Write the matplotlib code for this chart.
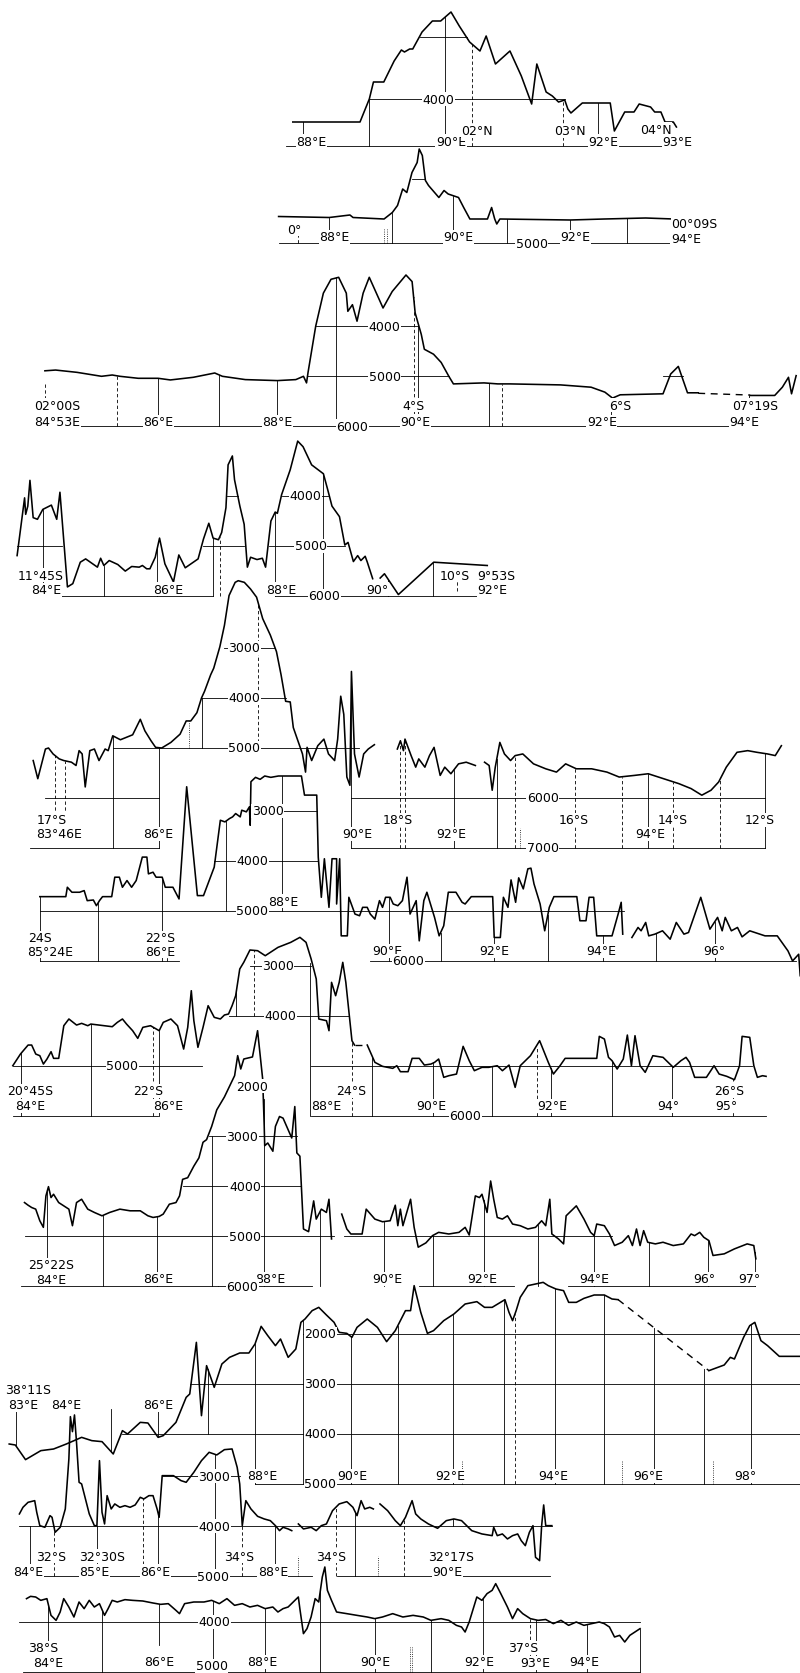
import numpy as np
import matplotlib
matplotlib.use("Agg")
import matplotlib.pyplot as plt
from matplotlib import font_manager

# Bathymetric profiles across the Ninetyeast Ridge.
# x = distance along track (arbitrary units per panel), y = depth in metres.
# ticks: (distance, lower depth, upper depth or None = up to the profile)
# labels: (text, distance, depth)

# ---- profile 1 : 2-4 N ----
p1_profile = [(0, 4460), (65, 4460), (74, 4000), (78, 3660), (88, 3660), (98, 3240), (105, 3020),
              (108, 3060), (113, 3000), (116, 3000), (125, 2660), (135, 2440), (143, 2440), (153, 2260),
              (161, 2540), (171, 2860), (181, 3040), (187, 2740), (196, 3300), (210, 3040), (221, 3540),
              (231, 4100), (236, 3300), (245, 3860), (251, 3940), (257, 4060), (263, 4020), (266, 4200),
              (269, 4280), (280, 4080), (307, 4080), (311, 4640), (321, 4260), (330, 4260), (335, 4100),
              (346, 4160), (350, 4260), (356, 4260), (360, 4460), (368, 4460), (371, 4560)]
p1_grid = [(4940, -7, 383), (4000, 74, 263), (2760, 123, 168)]
p1_solid = [(10, 4940, None), (74, 4940, 4000), (147, 4940, None), (295, 4940, None)]
p1_dashed = [(173, 4940, None), (261, 4940, None)]
p1_dotted = []
p1_labels = [("88°E", 18, 4840), ("90°E", 153, 4840), ("02°N", 178, 4630), ("03°N", 268, 4630),
             ("92°E", 300, 4840), ("04°N", 351, 4600), ("93°E", 372, 4860), ("4000", 141, 4000)]

# ---- profile 2 : equator ----
p2_profile = [(0, 4470), (49, 4490), (69, 4440), (72, 4490), (102, 4520), (110, 4390), (115, 4250),
              (120, 3920), (124, 3990), (129, 3590), (134, 3390), (136, 3120), (139, 3250), (142, 3750),
              (145, 3850), (155, 4090), (160, 3950), (164, 4020), (174, 4090), (179, 4290), (185, 4520),
              (202, 4520), (206, 4290), (209, 4520), (211, 4620), (214, 4520), (282, 4540), (315, 4520),
              (355, 4500), (382, 4520), (399, 4500)]
p2_grid = [(5000, 0, 395), (3720, 129, 142)]
p2_solid = [(49, 5000, None), (110, 5000, None), (169, 5000, None), (221, 5000, None),
            (282, 5000, None), (337, 5000, None)]
p2_dashed = [(19, 5000, 4660)]
p2_dotted = [(102, 5000, 4720), (105, 5000, 4720)]
p2_labels = [("0°", 15, 4720), ("88°E", 54, 4870), ("90°E", 174, 4870), ("92°E", 287, 4870),
             ("00°09S", 402, 4610), ("94°E", 394, 4910), ("5000", 245, 5000)]

# ---- profile 3 : 2-7 S ----
p3_profile = [(0, 4890), (7, 4875), (21, 4921), (37, 5000), (44, 4974), (49, 5000), (61, 5040),
              (74, 5040), (82, 5073), (97, 5020), (111, 4934), (116, 5000), (131, 5066), (152, 5086),
              (164, 5066), (169, 5000), (171, 5132), (172, 4921), (177, 3997), (182, 3337), (187, 3060),
              (192, 3020), (197, 3337), (198, 3700), (201, 3568), (204, 3898), (208, 3337), (212, 3020),
              (221, 3634), (227, 3304), (236, 2974), (240, 3106), (242, 3733), (246, 4162), (248, 4459),
              (254, 4558), (259, 4723), (264, 5000), (267, 5152), (287, 5132), (296, 5152), (304, 5152),
              (337, 5172), (357, 5218), (366, 5317), (371, 5436), (376, 5370), (404, 5350), (409, 4954),
              (414, 4802), (420, 5330), (427, 5330), (None, None),
              (461, 5383), (477, 5383), (482, 5218), (486, 5020), (488, 5350), (491, 4987)]
p3_dash = [(427, 5340), (461, 5375)]
p3_grid = [(6000, 0, 461), (5000, 171, 264), (4000, 177, 244), (5000, 404, 417)]
p3_solid = [(74, 6000, None), (114, 6000, None), (152, 6000, None), (190, 6000, 3020),
            (244, 6000, None), (290, 6000, None), (370, 6000, None)]
p3_dashed = [(0, 5450, 5150), (47, 6000, None), (241, 6000, None), (299, 6000, None), (460, 5550, 5383)]
p3_dotted = []
p3_labels = [("02°00S", 8, 5580), ("84°53E", 8, 5900), ("86°E", 74, 5910), ("88°E", 152, 5910),
             ("4°S", 241, 5580), ("90°E", 242, 5900), ("6°S", 376, 5580), ("92°E", 364, 5910),
             ("07°19S", 464, 5580), ("94°E", 457, 5910),
             ("4000", 222, 4000), ("5000", 222, 5000), ("6000", 201, 6000)]

# ---- profile 4 : 10-12 S ----
p4_profile = [(0, 5198), (7, 4043), (8, 4373), (10, 4208), (12, 3693), (15, 4439), (19, 4472),
              (24, 4274), (32, 4188), (37, 4472), (40, 3931), (47, 5825), (52, 5759), (59, 5330),
              (64, 5264), (75, 5429), (78, 5251), (81, 5396), (86, 5297), (94, 5376), (101, 5508),
              (107, 5416), (114, 5429), (117, 5396), (121, 5462), (124, 5462), (129, 5231), (133, 4848),
              (138, 5363), (146, 5726), (151, 5185), (157, 5442), (169, 5264), (174, 4868), (179, 4551),
              (183, 4848), (188, 4881), (191, 4736), (195, 4241), (197, 3383), (201, 3205), (203, 3680),
              (208, 4208), (212, 4571), (215, 5429), (218, 5231), (224, 5277), (229, 5251), (232, 5429),
              (237, 4505), (241, 4327), (243, 4353), (247, 3977), (255, 3482), (262, 2908), (267, 3020),
              (275, 3383), (286, 3561), (290, 3878), (294, 4208), (301, 4419), (306, 4987), (309, 4934),
              (314, 5317), (318, 5198), (321, 5297), (325, 5211), (327, 5330), (332, 5660), (None, None),
              (339, 5647), (343, 5561), (356, 5977), (389, 5330), (439, 5396)]
p4_grid = [(5000, 0, 42), (5000, 174, 212), (5000, 235, 306), (4000, 196, 206), (4000, 247, 290),
           (6000, 24, 183), (6000, 241, 439)]
p4_solid = [(24, 6000, None), (81, 6000, None), (131, 6000, None), (183, 6000, None), (241, 6000, None),
            (286, 5900, None), (346, 6000, None), (388, 6000, None)]
p4_dashed = [(189, 6000, None), (411, 5900, 5500)]
p4_dotted = []
p4_labels = [("11°45S", 22, 5595), ("84°E", 27, 5880), ("86°E", 141, 5871), ("88°E", 247, 5871),
             ("90°", 336, 5871), ("10°S", 409, 5595), ("9°53S", 447, 5595), ("92°E", 444, 5880),
             ("4000", 269, 4000), ("5000", 274, 5000), ("6000", 287, 6000)]

# ---- profile 5 : 12-18 S ----
p5_profile = [(0, 5251), (3, 5614), (8, 5020), (10, 5000), (13, 5119), (17, 5218), (20, 5251), (25, 5284),
              (28, 5350), (30, 5053), (32, 5119), (34, 5779), (37, 5053), (40, 5020), (43, 5251), (47, 5020),
              (49, 5053), (52, 4756), (57, 4835), (65, 4736), (70, 4426), (73, 4657), (77, 4855), (80, 4987),
              (84, 5000), (90, 4888), (96, 4723), (100, 4459), (103, 4459), (107, 4294), (110, 4000),
              (112, 3865), (116, 3535), (118, 3403), (122, 2974), (125, 2545), (128, 1951), (132, 1687),
              (134, 1654), (138, 1687), (142, 1819), (146, 1984), (150, 2413), (155, 2743), (159, 3073),
              (162, 3535), (165, 4066), (168, 4079), (170, 4591), (173, 4855), (176, 5119), (178, 5482),
              (179, 4987), (182, 5251), (186, 4954), (190, 4822), (193, 5119), (197, 5251), (199, 4822),
              (201, 3964), (203, 4327), (205, 5581), (207, 5746), (208, 3469), (210, 5119), (213, 5581),
              (216, 5119), (219, 5020), (223, 4934), (None, None),
              (238, 5020), (240, 4855), (242, 5053), (243, 4822), (245, 4987), (247, 5152), (250, 5383),
              (252, 5218), (256, 5383), (259, 5152), (262, 4987), (266, 5548), (269, 5383), (273, 5515),
              (278, 5317), (283, 5284), (289, 5350), (None, None),
              (295, 5284), (298, 5350), (300, 5845), (302, 5383), (305, 4888), (308, 5119), (312, 5251),
              (315, 5152), (320, 5119), (327, 5317), (335, 5416), (342, 5482), (348, 5317), (355, 5416),
              (365, 5416), (375, 5482), (383, 5581), (393, 5548), (402, 5515), (412, 5614), (422, 5713),
              (430, 5812), (437, 5944), (443, 5845), (448, 5680), (453, 5383), (460, 5086), (467, 5053),
              (473, 5086), (480, 5119), (485, 5152), (489, 4954)]
p5_grid = [(3000, 125, 158), (4000, 110, 165), (5000, 52, 213), (6000, 8, 82), (6000, 208, 478),
           (7000, -2, 82), (7000, 208, 478)]
p5_solid = [(52, 7000, None), (82, 7000, None), (110, 5000, None), (208, 7000, None), (275, 7000, None),
            (303, 7000, None), (402, 7000, None), (478, 7000, None)]
p5_dashed = [(14, 6350, None), (21, 6350, None), (147, 5000, None), (240, 7000, None), (243, 7000, None),
             (315, 7000, None), (354, 7000, None), (385, 7000, None), (418, 7000, None), (449, 7000, None)]
p5_dotted = [(102, 5000, 4460), (318, 7000, 6600)]
p5_labels = [("17°S", 12, 6430), ("83°46E", 17, 6710), ("86°E", 82, 6710), ("90°E", 212, 6710),
             ("18°S", 238, 6440), ("92°E", 273, 6710), ("16°S", 353, 6440), ("94°E", 403, 6710),
             ("14°S", 418, 6440), ("12°S", 475, 6440),
             ("3000", 138, 3000), ("4000", 138, 4000), ("5000", 138, 5000), ("6000", 333, 6000),
             ("7000", 333, 7000)]

# ---- profile 6 : 22-24 S ----
p6_profile = [(0, 4719), (17, 4719), (18, 4531), (21, 4631), (26, 4631), (29, 4598), (31, 4799), (35, 4786),
              (37, 4900), (39, 4799), (41, 4719), (47, 4719), (49, 4330), (52, 4330), (54, 4531), (57, 4397),
              (60, 4531), (63, 4397), (67, 3928), (70, 3928), (71, 4263), (74, 4230), (76, 4330), (80, 4330),
              (82, 4531), (87, 4531), (91, 4765), (96, 2521), (103, 4698), (107, 4698), (114, 4129),
              (118, 3191), (121, 3224), (124, 3157), (126, 3124), (128, 3057), (131, 3124), (132, 2990),
              (135, 3023), (137, 2923), (137.5, 3291), (138, 2420), (141, 2333), (144, 2373), (147, 2306),
              (151, 2333), (156, 2306), (171, 2306), (173, 2688), (181, 2688), (182, 3928), (184, 4732),
              (186, 3961), (189, 4933), (191, 3961), (194, 3961), (194, 4866), (196, 3961), (197, 5503),
              (201, 5503), (202, 4732), (206, 5067), (209, 5101), (211, 4933), (214, 4933), (216, 5067),
              (219, 5168), (222, 4799), (224, 4933), (226, 4732), (229, 4732), (231, 4866), (234, 4900),
              (237, 4799), (240, 4330), (242, 5067), (244, 4933), (246, 4799), (248, 5603), (251, 4799),
              (253, 4631), (256, 4933), (258, 5134), (261, 5503), (264, 5302), (267, 4631), (272, 4631),
              (276, 4832), (278, 4866), (282, 4719), (296, 4719), (297, 5536), (301, 5536), (303, 4732),
              (306, 4933), (308, 4384), (311, 4832), (313, 4343), (316, 4564), (319, 4163), (321, 4149),
              (323, 4464), (327, 4866), (330, 5402), (333, 4933), (336, 4719), (351, 4719), (353, 5201),
              (357, 5201), (359, 4732), (362, 4732), (364, 5503), (374, 5503), (378, 5067), (380, 4832),
              (381, 5469), (None, None),
              (387, 5536), (391, 5335), (393, 5402), (396, 5235), (398, 5503), (402, 5469), (407, 5402),
              (412, 5570), (416, 5235), (421, 5469), (424, 5436), (432, 4732), (438, 5369), (443, 5134),
              (446, 5402), (448, 5134), (452, 5402), (456, 5335), (459, 5523), (464, 5402), (474, 5503),
              (482, 5503), (489, 5804), (492, 6005), (496, 5871), (497, 6300)]
p6_grid = [(3000, 139, 181), (4000, 114, 182), (5000, 0, 382), (6000, 0, 91), (6000, 216, 494)]
p6_solid = [(0, 6000, None), (38, 6000, None), (80, 6000, None), (122, 5000, None), (158, 5000, None),
            (228, 6000, None), (262, 6000, None), (297, 6000, None), (332, 6000, None), (368, 6000, None),
            (403, 6000, None), (441, 6000, None)]
p6_dashed = [(83, 6000, 5450)]
p6_dotted = []
p6_labels = [("24S", 0, 5540), ("85°24E", 7, 5815), ("22°S", 79, 5540), ("86°E", 79, 5815),
             ("88°E", 159, 4812), ("90°E", 227, 5804), ("92°E", 297, 5804), ("94°E", 367, 5804),
             ("96°", 441, 5804),
             ("3000", 149, 3000), ("4000", 139, 4000), ("5000", 139, 5000), ("6000", 241, 6000)]

# ---- profile 7 : 20-26 S ----
p7_profile = [(0, 5000), (7.5, 4767), (15, 4587), (18.5, 4587), (22.5, 4767), (26.5, 4800), (30, 4967),
              (33.5, 4867), (37.5, 4720), (40, 4853), (45, 4853), (50, 4200), (55, 4066), (62.5, 4187),
              (67.5, 4153), (73.5, 4200), (76.5, 4167), (97.5, 4220), (102.5, 4133), (107.5, 4066),
              (111.5, 4167), (117.5, 4300), (122.5, 4453), (127.5, 4233), (135, 4200), (143.5, 4300),
              (147.5, 4133), (155, 4066), (161.5, 4200), (167.5, 4667), (171.5, 4233), (175, 3500),
              (177.5, 4100), (181.5, 4633), (186.5, 4233), (191.5, 3800), (197.5, 4033), (203.5, 4066),
              (207.5, 3986), (211.5, 3966), (215, 3800), (218.5, 3600), (222.5, 3066), (226.5, 2930),
              (232.5, 2686), (240, 2700), (247.5, 2800), (260, 2633), (272.5, 2533), (281.5, 2433),
              (287.5, 2533), (292.5, 2866), (297.5, 3266), (300, 4066), (307.5, 4100), (310, 4300),
              (312.5, 3333), (316.5, 3600), (320, 3333), (323.5, 2933), (326.5, 3333), (332.5, 4500),
              (335, 4587), (None, None),
              (347.5, 4587), (355, 4933), (362.5, 5013), (372.5, 5053), (376.5, 5000), (380, 5120),
              (387.5, 5120), (391.5, 4853), (398.5, 4853), (403.5, 4987), (410, 4967), (413.5, 4933),
              (417.5, 4867), (422.5, 5233), (427.5, 5200), (435, 5167), (441.5, 4613), (447.5, 4900),
              (452.5, 5100), (460, 5033), (466.5, 5033), (475, 5000), (480, 5100), (486.5, 4987),
              (492.5, 5433), (497.5, 5000), (507.5, 4800), (516.5, 4500), (525, 4933), (530, 5167),
              (536.5, 5000), (541.5, 4853), (572.5, 4853), (575, 4413), (580, 4467), (584, 4833),
              (587.5, 4900), (592.5, 5067), (598.5, 4867), (602.5, 4387), (606.5, 5000), (610, 4400),
              (615, 5000), (620, 5133), (627.5, 4800), (637.5, 4833), (647.5, 5033), (655, 4900),
              (660, 4833), (663.5, 4933), (668.5, 5233), (680, 5233), (687.5, 5000), (692.5, 5167),
              (700, 5213), (707.5, 5280), (712.5, 5000), (715, 4413), (722.5, 4433), (726.5, 5000),
              (730, 5233), (735, 5200), (738.5, 5213)]
p7_dash = [(335, 4587), (347.5, 4587)]
p7_grid = [(3000, 232.5, 292.5), (4000, 211.5, 330), (5000, 0, 185), (5000, 292.5, 725),
           (6000, 0, 142.5), (6000, 292.5, 738.5)]
p7_solid = [(8.5, 6000, None), (76.5, 6000, None), (143.5, 6000, None), (219, 4000, None),
            (291.5, 6000, 2950), (352.5, 6000, None), (411.5, 6000, None), (470, 6000, None),
            (527.5, 6000, None), (587.5, 6000, None), (646.5, 6000, None)]
p7_dashed = [(137.5, 6000, None), (236.5, 4000, None), (332.5, 6000, None), (513.5, 6000, None),
             (706, 6000, None)]
p7_dotted = []
p7_labels = [("20°45S", 17.5, 5500), ("84°E", 17.5, 5800), ("22°S", 132.5, 5500), ("86°E", 152.5, 5800),
             ("88°E", 307.5, 5800), ("24°S", 331.5, 5500), ("90°E", 410, 5800), ("92°E", 528.5, 5800),
             ("94°", 642.5, 5800), ("26°S", 702.5, 5500), ("95°", 700, 5800),
             ("3000", 260, 3000), ("4000", 262.5, 4000), ("5000", 107.5, 5000), ("6000", 443.5, 6000)]

# ---- profile 8 : 25 S ----
p8_profile = [(0, 4325), (3.5, 4378), (7, 4424), (11, 4457), (15, 4689), (18.5, 4821), (21, 4192),
              (23.5, 4007), (26, 4225), (28.5, 4159), (33.5, 4325), (38.5, 4391), (43.5, 4457), (47, 4788),
              (51, 4325), (56, 4259), (62, 4457), (68.5, 4523), (76, 4590), (83.5, 4523), (93.5, 4457),
              (103.5, 4490), (113.5, 4490), (121, 4590), (126, 4623), (132, 4603), (136, 4556), (142, 4358),
              (148.5, 4325), (152, 4192), (155, 3861), (160, 3828), (166, 3597), (171, 3431), (175, 3120),
              (178.5, 3067), (183.5, 2802), (188.5, 2471), (196, 2213), (206, 1787), (209, 1387),
              (212, 1654), (215, 1454), (223.5, 1413), (228.5, 888), (233.5, 1854), (235, 2787),
              (235.5, 3188), (238.5, 3134), (243.5, 3299), (246, 2802), (250, 2604), (253.5, 2637),
              (257, 2802), (262, 3034), (265, 2405), (267, 3332), (270, 3398), (273.5, 4854), (278.5, 4907),
              (283.5, 4292), (286, 4656), (291, 4457), (296, 4523), (298.5, 4259), (301, 5053), (None, None),
              (311, 4556), (316, 4854), (320, 4954), (331, 4954), (335, 4457), (343.5, 4656), (351, 4709),
              (358.5, 4689), (363.5, 4378), (366, 4788), (368.5, 4457), (371, 4788), (378.5, 4259),
              (382, 4821), (386, 5218), (393.5, 5132), (400, 4987), (406, 4921), (416, 4954), (426, 4921),
              (432, 4821), (436, 4974), (442, 4192), (446, 4225), (448.5, 4159), (453.5, 4523), (457, 3894),
              (460, 4259), (463.5, 4623), (468.5, 4656), (473.5, 4590), (478.5, 4755), (486, 4788),
              (493.5, 4854), (501, 4821), (507, 4689), (511, 4788), (515, 4259), (517, 4954), (523.5, 5053),
              (528.5, 5152), (531, 4590), (541, 4391), (548.5, 4656), (555, 4921), (558.5, 4987),
              (561, 4755), (568.5, 4788), (573.5, 4954), (578.5, 5185), (586, 5119), (592, 4987),
              (596, 5185), (600, 4854), (603.5, 5185), (607, 4887), (611, 5119), (618.5, 5152), (626, 5119),
              (636, 5185), (646, 5152), (653.5, 4954), (657, 4987), (662, 4921), (666, 5020), (671, 5086),
              (675, 5384), (686, 5351), (696, 5252), (708.5, 5152), (715, 5185), (717, 5450)]
p8_grid = [(3000, 181, 267), (4000, 155, 271), (5000, 0, 303.5), (5000, 313.5, 576),
           (6000, -3, 190), (6000, 190, 282), (6000, 387, 480), (6000, 533, 716)]
p8_solid = [(22, 5600, None), (77, 6000, None), (130, 6000, None), (183.5, 6000, 3000), (235, 6000, 2250),
            (290, 6000, None), (352, 6000, None), (400, 6000, None), (450, 6000, None), (503.5, 6000, None),
            (558.5, 6000, None), (612, 6000, None), (670, 6000, None), (716, 6000, None)]
p8_dashed = []
p8_dotted = []
p8_labels = [("25°22S", 26, 5570), ("84°E", 26, 5860), ("86°E", 131, 5848), ("88°E", 241, 5848),
             ("90°E", 356, 5848), ("92°E", 448.5, 5848), ("94°E", 558.5, 5848), ("96°", 666, 5848),
             ("97°", 711, 5848),
             ("2000", 223.5, 2000), ("3000", 213.5, 3000), ("4000", 216, 4000), ("5000", 216, 5000),
             ("6000", 213.5, 6000)]

# ---- profile 9 : 38 S ----
p9_profile = [(0, 4200), (6, 4220), (16, 4513), (31, 4333), (43.5, 4300), (56, 4200), (71, 4067),
              (81, 4133), (91, 4153), (102, 4400), (111, 3933), (116, 4000), (128.5, 3767), (136, 3780),
              (146, 4067), (151, 4033), (163.5, 3767), (173.5, 3267), (177, 3200), (183.5, 2167),
              (188.5, 3633), (193.5, 2633), (201, 3067), (208.5, 2600), (216, 2467), (226, 2380),
              (235, 2380), (241, 2200), (247, 1847), (253.5, 2033), (261, 2233), (266, 2100), (273.5, 2467),
              (281, 2300), (286, 1767), (290, 1700), (297, 1533), (303.5, 1467), (311, 1620), (318.5, 1767),
              (323.5, 1967), (331, 1987), (336, 2067), (341, 1867), (351, 1700), (361, 1867), (370, 2153),
              (378.5, 1933), (381, 1833), (388.5, 1533), (393.5, 1533), (397, 1033), (403.5, 1567),
              (410, 1987), (416, 1933), (426, 1733), (436, 1600), (447, 1400), (458.5, 1353), (466, 1467),
              (473.5, 1467), (486, 1313), (490, 1567), (493.5, 1733), (497, 1533), (501, 1267),
              (508.5, 1033), (516, 1000), (523.5, 967), (528.5, 1033), (536, 1100), (543.5, 1133),
              (548.5, 1367), (556, 1367), (563.5, 1287), (573.5, 1220), (583.5, 1220), (591, 1300),
              (597, 1313), (None, None),
              (686, 2733), (701, 2620), (707, 2467), (711, 2500), (720, 2067), (726, 1833), (731, 1767),
              (737, 2133), (743.5, 2233), (755, 2447), (775, 2447)]
p9_dash = [(597, 1313), (686, 2733)]
p9_grid = [(2000, 288.5, 775), (3000, 177, 775), (4000, 111, 775), (5000, 241, 775)]
p9_solid = [(7, 3450, None), (100, 3500, None), (146, 3450, None), (194.5, 4000, None), (241, 5000, None),
            (288.5, 5000, None), (335, 5000, None), (381, 5000, None), (435, 5000, None), (485, 5000, None),
            (535, 5000, None), (583.5, 5000, None), (632, 5000, 1870), (681, 5000, 2700), (727, 5000, None)]
p9_dashed = [(496, 5000, None)]
p9_dotted = [(443.5, 5000, 4530), (601, 5000, 4530), (690, 5000, 4530)]
p9_labels = [("38°11S", 18.5, 3110), ("83°E", 13.5, 3410), ("84°E", 56, 3410), ("86°E", 146, 3410),
             ("88°E", 248.5, 4834), ("90°E", 336, 4834), ("92°E", 432, 4834), ("94°E", 533.5, 4834),
             ("96°E", 627, 4834), ("98°", 722, 4834),
             ("2000", 305, 2000), ("3000", 305, 3000), ("4000", 305, 4000), ("5000", 305, 5000)]

# ---- profile 10 : 32-34 S ----
p10_profile = [(0, 3753), (3.5, 3620), (8.5, 3520), (15, 3487), (17, 3720), (20, 3987), (25, 4020),
               (30, 3787), (32, 3820), (35, 4120), (40, 4020), (45, 3653), (48.5, 2653), (50, 1807),
               (52, 2107), (54, 1773), (56, 2320), (58.5, 3120), (61, 3153), (68.5, 3753), (73.5, 3987),
               (76, 3987), (78.5, 2687), (81, 3720), (83.5, 3953), (86, 3387), (90, 3653), (93.5, 3553),
               (98.5, 3620), (103.5, 3587), (108.5, 3620), (113.5, 3573), (118.5, 3420), (122, 3453),
               (127, 3387), (131, 3387), (135, 3653), (137, 3820), (140, 2987), (151, 2987), (158.5, 3087),
               (163.5, 3120), (171, 2920), (178.5, 2687), (186, 2520), (193.5, 2573), (201, 2467),
               (208.5, 2453), (213.5, 2820), (216, 3153), (218.5, 3987), (222, 3487), (227, 3653),
               (233.5, 3800), (240, 3853), (246, 3887), (251, 3987), (255, 4087), (258.5, 4020),
               (263.5, 4053), (267, 4087), (None, None),
               (273.5, 3953), (278.5, 4053), (286, 4020), (291, 4087), (296, 3987), (301, 3953), (307, 3687),
               (313.5, 3553), (321, 3507), (327, 3620), (331, 3787), (335, 3487), (338.5, 3653),
               (343.5, 3620), (347, 3653), (None, None),
               (353.5, 3553), (361, 3687), (368.5, 3887), (373.5, 3987), (378.5, 3820), (385, 3487),
               (388.5, 3753), (393.5, 3853), (401, 3953), (410, 4040), (418.5, 3887), (426, 3853),
               (433.5, 3887), (438.5, 3987), (443.5, 4087), (453.5, 4153), (463.5, 4187), (465, 4020),
               (468.5, 4187), (473.5, 4153), (478.5, 4253), (483.5, 4187), (488.5, 4153), (492, 4287),
               (496, 4387), (500, 4120), (503.5, 3987), (506, 4620), (510, 4687), (512, 3987), (514, 3573),
               (516, 3987), (522, 3987)]
p10_grid = [(3000, 140, 216), (4000, 0, 522), (5000, -3, 287), (5000, 311, 520)]
p10_solid = [(10, 5000, 4000), (76, 5000, None), (136, 5000, None), (192, 5000, None), (251, 5000, None),
             (329.5, 5000, None), (425, 4000, None)]
p10_dashed = [(33.5, 5000, None), (121, 5000, None), (218.5, 5000, None), (310, 5000, None),
              (377.5, 5000, None)]
p10_dotted = [(273.5, 5000, 4600), (352, 5000, 4600)]
p10_labels = [("84°E", 8.5, 4900), ("32°S", 31, 4600), ("32°30S", 81, 4600), ("85°E", 73.5, 4900),
              ("86°E", 133.5, 4900), ("34°S", 215, 4600), ("88°E", 248.5, 4900), ("34°S", 306, 4600),
              ("32°17S", 423.5, 4600), ("90°E", 420, 4900),
              ("3000", 191, 3000), ("4000", 191, 4000), ("5000", 190, 5000)]

# ---- profile 11 : 37-38 S ----
p11_profile = [(0, 3533), (4, 3487), (9, 3500), (14, 3567), (20, 3533), (24, 3867), (29, 3967), (33, 3800),
               (36.5, 3533), (41.5, 3700), (46.5, 3900), (51.5, 3600), (56.5, 3733), (61.5, 3567),
               (66.5, 3700), (71.5, 3633), (76.5, 3867), (80, 3733), (84, 3567), (89, 3600), (96.5, 3553),
               (104, 3567), (114, 3580), (124, 3620), (131.5, 3647), (139, 3633), (146.5, 3767),
               (150, 3833), (155, 3633), (164, 3600), (174, 3600), (181.5, 3567), (189, 3633),
               (196.5, 3533), (204, 3667), (211.5, 3633), (219, 3700), (226.5, 3667), (234, 3733),
               (241.5, 3700), (246.5, 3800), (251.5, 3733), (256.5, 3700), (261.5, 3600), (266.5, 3500),
               (268, 3733), (271.5, 4233), (275, 4133), (279, 3900), (283, 3533), (286.5, 3600),
               (290, 3100), (292.5, 2900), (295, 3367), (299, 3567), (304, 3800), (314, 3833), (324, 3867),
               (334, 3900), (341.5, 3933), (349, 3900), (359, 3833), (369, 3900), (379, 3867), (389, 3900),
               (396.5, 3967), (406.5, 3933), (414, 3967), (421.5, 4067), (426.5, 4100), (430, 4200),
               (434, 4000), (441.5, 3500), (446.5, 3567), (451.5, 3433), (456.5, 3367), (460, 3233),
               (465, 3433), (471.5, 3700), (476.5, 3933), (481.5, 3733), (486.5, 3833), (494, 3933),
               (501.5, 3967), (509, 3950), (516.5, 4033), (524, 3967), (531.5, 4067), (539, 4000),
               (546.5, 4067), (554, 4033), (561.5, 4000), (566.5, 4033), (571.5, 4100), (576.5, 4300),
               (581.5, 4267), (586.5, 4400), (591.5, 4267), (596.5, 4200), (601.5, 4133)]
p11_grid = [(4000, -7, 601.5), (5000, -3.5, 601.5)]
p11_solid = [(21.5, 4450, None), (74, 5000, None), (130, 4450, None), (183, 5000, None), (234, 5000, None),
             (288, 5000, None), (341.5, 5000, None), (396.5, 5000, None), (448, 5000, None),
             (500, 5000, None), (550, 5000, None), (601.5, 5000, None)]
p11_dashed = [(494, 4700, None)]
p11_dotted = [(376, 5000, 4500), (378, 5000, 4500)]
p11_labels = [("38°S", 16.5, 4520), ("84°E", 21.5, 4810), ("86°E", 130, 4800), ("88°E", 231.5, 4800),
              ("90°E", 341.5, 4800), ("92°E", 444, 4800), ("37°S", 486.5, 4520), ("93°E", 499, 4810),
              ("94°E", 546.5, 4800), ("4000", 184, 4000), ("5000", 181.5, 4870)]

# ---- page layout: where each panel sits (pixels) ----
W, H = 800, 1674
PX_PER_M = 0.05  # 50 px per 1000 m

PANELS = [
    dict(prof=p1_profile, grid=p1_grid, solid=p1_solid, dashed=p1_dashed, dotted=p1_dotted,
         labels=p1_labels, x0=292.8, sx=1.034, yref=100.0, dref=4000),
    dict(prof=p2_profile, grid=p2_grid, solid=p2_solid, dashed=p2_dashed, dotted=p2_dotted,
         labels=p2_labels, x0=278.6, sx=1.034, yref=244.0, dref=5000),
    dict(prof=p3_profile, grid=p3_grid, solid=p3_solid, dashed=p3_dashed, dotted=p3_dotted,
         labels=p3_labels, x0=44.9, sx=1.53, yref=377.3, dref=5000, dash=p3_dash),
    dict(prof=p4_profile, grid=p4_grid, solid=p4_solid, dashed=p4_dashed, dotted=p4_dotted,
         labels=p4_labels, x0=17.1, sx=1.071, yref=546.7, dref=5000),
    dict(prof=p5_profile, grid=p5_grid, solid=p5_solid, dashed=p5_dashed, dotted=p5_dotted,
         labels=p5_labels, x0=33.2, sx=1.53, yref=749.0, dref=5000),
    dict(prof=p6_profile, grid=p6_grid, solid=p6_solid, dashed=p6_dashed, dotted=p6_dotted,
         labels=p6_labels, x0=39.8, sx=1.53, yref=911.7, dref=5000),
    dict(prof=p7_profile, grid=p7_grid, solid=p7_solid, dashed=p7_dashed, dotted=p7_dotted,
         labels=p7_labels, x0=12.8, sx=1.02, yref=1066.7, dref=5000, dash=p7_dash),
    dict(prof=p8_profile, grid=p8_grid, solid=p8_solid, dashed=p8_dashed, dotted=p8_dotted,
         labels=p8_labels, x0=24.5, sx=1.02, yref=1237.3, dref=5000),
    dict(prof=p9_profile, grid=p9_grid, solid=p9_solid, dashed=p9_dashed, dotted=p9_dotted,
         labels=p9_labels, x0=9.2, sx=1.02, yref=1335.0, dref=2000, dash=p9_dash),
    dict(prof=p10_profile, grid=p10_grid, solid=p10_solid, dashed=p10_dashed, dotted=p10_dotted,
         labels=p10_labels, x0=19.4, sx=1.02, yref=1527.3, dref=4000),
    dict(prof=p11_profile, grid=p11_grid, solid=p11_solid, dashed=p11_dashed, dotted=p11_dotted,
         labels=p11_labels, x0=26.5, sx=1.02, yref=1623.0, dref=4000),
]


def pick_font():
    names = {f.name for f in font_manager.fontManager.ttflist}
    if "Liberation Sans Narrow" in names:
        return "Liberation Sans Narrow", 10
    return "DejaVu Sans", 9


FONT, FS = pick_font()


def to_xy(pairs):
    a = np.array([[np.nan if v is None else v for v in p] for p in pairs], dtype=float)
    return a[:, 0], a[:, 1]


def draw_panel(fig, p):
    ax = fig.add_axes([0, 0, 1, 1])
    ax.set_axis_off()
    ax.set_xlim(-p["x0"] / p["sx"], (W - p["x0"]) / p["sx"])
    ax.set_ylim(p["dref"] + (H - p["yref"]) / PX_PER_M, p["dref"] - p["yref"] / PX_PER_M)

    dist, depth = to_xy(p["prof"])
    ax.plot(dist, depth, color="k", lw=1.15, zorder=3)
    if "dash" in p:
        dd, dz = to_xy(p["dash"])
        ax.plot(dd, dz, color="k", lw=1.0, ls=(0, (5, 4)), zorder=3)

    ok = np.isfinite(dist)
    for z, a, b in p["grid"]:
        ax.plot([a, b], [z, z], color="k", lw=0.6, zorder=2)

    for ticks, ls in ((p["solid"], "-"), (p["dashed"], (0, (4, 3))), (p["dotted"], ":")):
        for x, lo, hi in ticks:
            if hi is None:
                hi = np.interp(x, dist[ok], depth[ok])
            ax.plot([x, x], [lo, hi], color="k", lw=0.6, ls=ls, zorder=2)

    for txt, x, z in p["labels"]:
        ax.text(x, z, txt, ha="center", va="center", fontsize=FS, family=FONT,
                color="k", zorder=5, bbox=dict(fc="white", ec="none", pad=0.4))


fig = plt.figure(figsize=(W / 100, H / 100), dpi=100)
fig.patch.set_facecolor("white")
for panel in PANELS:
    draw_panel(fig, panel)

fig.savefig("out.png", dpi=100, facecolor="white")
